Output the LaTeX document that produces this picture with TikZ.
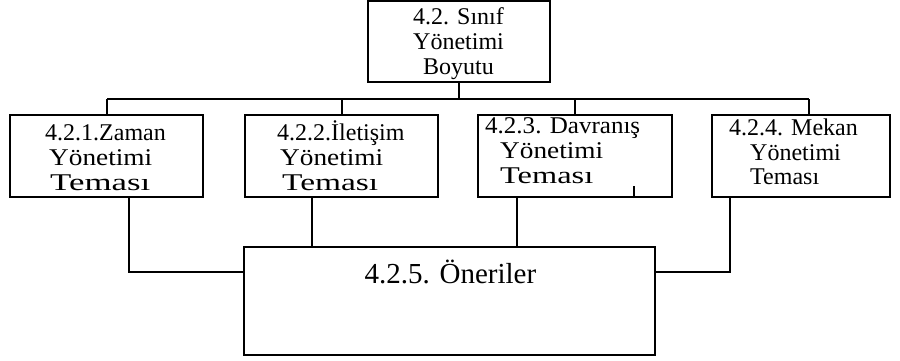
\documentclass[tikz,border=0pt]{standalone}
\usepackage{graphicx}
\usepackage{fontspec}
\setmainfont{Liberation Serif}
\newcommand{\wl}[2]{\resizebox{#1}{\height}{#2}}
\begin{document}
\begin{tikzpicture}[x=1pt,y=-1pt]
\tikzset{
  box/.style={draw, line width=2.4pt, inner sep=0pt, minimum height=82pt},
  lbl/.style={inner sep=0pt, font=\fontsize{24}{25}\selectfont},
  bus/.style={line width=2.6pt},
  drop/.style={line width=2.2pt},
  link/.style={line width=1.4pt}
}
\useasboundingbox (0,0) rectangle (900,361);
% boxes
\node[box, minimum width=182pt, minimum height=81pt] (top) at (459,41.5) {};
\node[box, minimum width=193pt] (b1) at (106.5,156) {};
\node[box, minimum width=193pt] (b2) at (341.5,156) {};
\node[box, minimum width=194pt] (b3) at (575,156) {};
\node[box, minimum width=178pt] (b4) at (801,156) {};
\node[box, minimum width=411pt, minimum height=108pt] (bot) at (449.5,301) {};
% texts
\node[lbl, anchor=base] (ttop) at (458.5,25) {\begin{tabular}[t]{@{}c@{}}4.2. Sınıf\\Yönetimi\\Boyutu\end{tabular}};
\node[lbl, anchor=base west] (t1) at (45,140) {\begin{tabular}[t]{@{}l@{}}4.2.1.Zaman\\\hspace*{4pt}\wl{103pt}{Yönetimi}\\\hspace*{5pt}\wl{100pt}{Teması}\end{tabular}};
\node[lbl, anchor=base west] (t2) at (277,140) {\begin{tabular}[t]{@{}l@{}}4.2.2.İletişim\\\hspace*{3pt}\wl{103pt}{Yönetimi}\\\hspace*{5pt}\wl{96pt}{Teması}\end{tabular}};
\node[lbl, anchor=base west] (t3) at (485,133.5) {\begin{tabular}[t]{@{}l@{}}\wl{155pt}{4.2.3. Davranış}\\\hspace*{15pt}\wl{103pt}{Yönetimi}\\\hspace*{15pt}\wl{93pt}{Teması}\end{tabular}};
\node[lbl, anchor=base west] (t4) at (729,135) {\begin{tabular}[t]{@{}l@{}}4.2.4. Mekan\\\hspace*{21pt}Yönetimi\\\hspace*{21pt}Teması\end{tabular}};
\node[inner sep=0pt, font=\fontsize{29}{31}\selectfont, anchor=base] (tb) at (450.5,283) {4.2.5. Öneriler};
% bus connectors
\coordinate (d1) at (107,99);
\coordinate (d4) at (809,99);
\draw[bus] (d1) -- (d4);
\draw[drop] (top.south) -- (top.south |- d1);
\draw[drop] (d1) -- (d1 |- b1.north);
\draw[drop] ([xshift=0.5pt]b2.north |- d1) -- ([xshift=0.5pt]b2.north);
\draw[drop] (b3.north |- d1) -- (b3.north);
\draw[drop] (d4) -- (d4 |- b4.north);
% lower connectors
\coordinate (l1) at (129,272);
\coordinate (r4) at (730,272);
\draw[link] (l1 |- b1.south) -- (l1) -- (l1 -| bot.west);
\draw[link] ([xshift=-29.5pt]b2.south) -- ([xshift=-29.5pt]b2.south |- bot.north);
\draw[link] ([xshift=-58pt]b3.south) -- ([xshift=-58pt]b3.south |- bot.north);
\draw[link] (r4 |- b4.south) -- (r4) -- (r4 -| bot.east);
\draw[link] ([xshift=59pt]b3.south) -- ++(0,-12);
\end{tikzpicture}
\end{document}
